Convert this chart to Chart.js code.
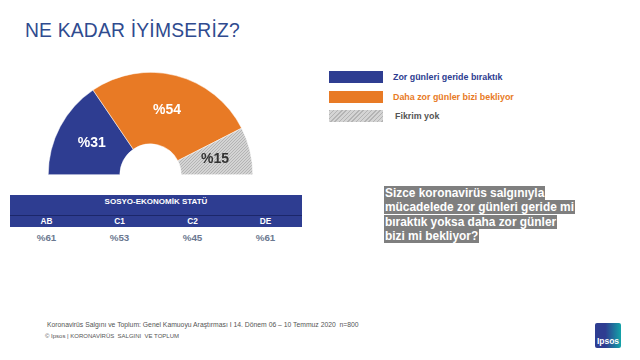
<!DOCTYPE html>
<html>
<head>
<meta charset="utf-8">
<script src="https://cdn.jsdelivr.net/npm/chart.js@4"></script>
<style>
  body { margin: 0; width: 640px; height: 360px; background: #fff; font-family: 'Liberation Sans', Arial, sans-serif; position: relative; overflow: hidden; }
  .abs { position: absolute; }
  #title { left: 25px; top: 20px; font-size: 19.3px; color: #2f4b8f; letter-spacing: 0.2px; }
  #chartBox { left: 48px; top: 72px; width: 205px; height: 103px; }
  #legend { left: 329px; top: 71px; }
  .lg-row { display: flex; align-items: center; height: 12px; margin-bottom: 7.5px; }
  .lg-sw { width: 54px; height: 12px; margin-right: 10px; }
  .lg-tx { font-weight: bold; font-size: 8.9px; }
  #seTable { left: 10px; top: 195px; width: 292px; border-collapse: collapse; }
  #seTable th { background: #2e3d91; color: #fff; font-size: 8px; font-weight: bold; padding: 0; }
  #seTable .hdr th { height: 20px; vertical-align: top; padding-top: 2px; box-sizing: border-box; border-bottom: 1px solid #1c276a; }
  #seTable .seg th { height: 11px; line-height: 11px; width: 25%; font-size: 8.3px; }
  #seTable td { text-align: center; font-size: 9.8px; font-weight: bold; color: #6b7890; padding-top: 5px; }
  #question { left: 384px; top: 186px; width: 240px; font-size: 11.9px; font-weight: bold; color: #fff; line-height: 14.3px; }
  #question span { background: #7f7f7f; padding: 0 1px; }
  .foot { font-size: 6.8px; color: #555; white-space: nowrap; }
  #logo { left: 595px; top: 323px; width: 26px; height: 25px; background: linear-gradient(90deg, #2e3d91 0%, #2e3d91 40%, #13a3a8 100%); border-radius: 2px; color: #fff; font-size: 8.5px; font-weight: bold; text-align: center; box-sizing: border-box; padding-top: 13px; }
</style>
</head>
<body>
<div id="title" class="abs">NE KADAR İYİMSERİZ?</div>
<div id="chartBox" class="abs"><canvas id="semiChart"></canvas></div>
<div id="legend" class="abs"></div>
<table id="seTable" class="abs"></table>
<div id="question" class="abs"></div>
<div class="abs foot" style="left:47px; top:321px;">Koronavirüs Salgını ve Toplum: Genel Kamuoyu Araştırması I 14. Dönem 06 – 10 Temmuz 2020 &nbsp;n=800</div>
<div class="abs foot" style="left:45px; top:333px; font-size:6px;">© Ipsos | KORONAVİRÜS &nbsp;SALGINI &nbsp;VE TOPLUM</div>
<div id="logo" class="abs">Ipsos</div>

<script>
const answers = ['Zor günleri geride bıraktık', 'Daha zor günler bizi bekliyor', 'Fikrim yok'];
const shares = [31, 54, 15];
const answerTextColors = ['#2e3d91', '#e87a25', '#555555'];

const segments = ['AB', 'C1', 'C2', 'DE'];
const segmentValues = [61, 53, 45, 61];

const questionLines = [
    'Sizce koronavirüs salgınıyla',
    'mücadelede zor günleri geride mi',
    'bıraktık yoksa daha zor günler',
    'bizi mi bekliyor?'
];

// hatched grey for "Fikrim yok"
const makeHatch = () => {
    const c = document.createElement('canvas');
    c.width = 3; c.height = 3;
    const x = c.getContext('2d');
    x.fillStyle = '#d4d4d4';
    x.fillRect(0, 0, 3, 3);
    x.fillStyle = '#b4b4b4';
    x.fillRect(0, 2, 1, 1);
    x.fillRect(1, 1, 1, 1);
    x.fillRect(2, 0, 1, 1);
    return x.createPattern(c, 'repeat');
};
const hatch = makeHatch();
const sliceColors = ['#2e3d91', '#e87a25', hatch];
const labelColors = ['#ffffff', '#ffffff', '#333333'];

// value labels in the middle of each arc
const sliceLabels = {
    id: 'sliceLabels',
    afterDatasetsDraw(chart) {
        const ctx = chart.ctx;
        const meta = chart.getDatasetMeta(0);
        ctx.save();
        ctx.font = "bold 14px 'Liberation Sans', Arial, sans-serif";
        ctx.textAlign = 'center';
        ctx.textBaseline = 'middle';
        meta.data.forEach((arc, i) => {
            const p = arc.tooltipPosition();
            ctx.fillStyle = labelColors[i];
            ctx.fillText('%' + shares[i], p.x, p.y);
        });
        ctx.restore();
    }
};

new Chart(document.getElementById('semiChart'), {
    type: 'doughnut',
    data: {
        labels: answers,
        datasets: [{
            data: shares,
            backgroundColor: sliceColors,
            borderColor: '#ffffff',
            borderWidth: 0.5
        }]
    },
    options: {
        responsive: true,
        maintainAspectRatio: false,
        animation: false,
        rotation: -90,
        circumference: 180,
        cutout: '30%',
        layout: { padding: 0 },
        plugins: {
            legend: { display: false },
            tooltip: { enabled: false }
        }
    },
    plugins: [sliceLabels]
});

// legend
const legend = document.getElementById('legend');
answers.forEach((a, i) => {
    const row = document.createElement('div');
    row.className = 'lg-row';
    const sw = document.createElement('div');
    sw.className = 'lg-sw';
    sw.style.background = i === 2
        ? 'repeating-linear-gradient(135deg, #b4b4b4 0 1px, #d4d4d4 1px 3px)'
        : sliceColors[i];
    const tx = document.createElement('div');
    tx.className = 'lg-tx';
    tx.style.color = answerTextColors[i];
    if (i === 2) tx.style.marginLeft = '2px';
    tx.textContent = a;
    row.appendChild(sw);
    row.appendChild(tx);
    legend.appendChild(row);
});

// socio-economic table
const table = document.getElementById('seTable');
table.innerHTML =
    '<tr class="hdr"><th colspan="' + segments.length + '">SOSYO-EKONOMİK STATÜ</th></tr>' +
    '<tr class="seg">' + segments.map(s => '<th>' + s + '</th>').join('') + '</tr>' +
    '<tr>' + segmentValues.map(v => '<td>%' + v + '</td>').join('') + '</tr>';

// question
document.getElementById('question').innerHTML =
    questionLines.map(l => '<span>' + l + '</span>').join('<br>');
</script>
</body>
</html>
